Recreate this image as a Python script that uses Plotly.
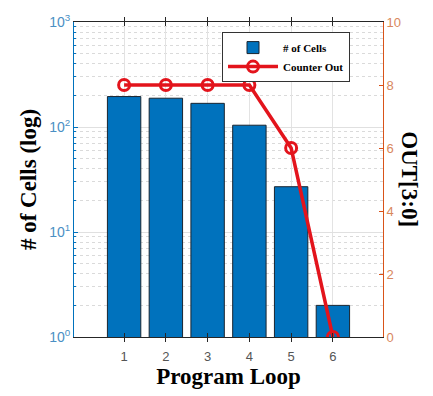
import plotly.graph_objects as go

# Cell counts per program loop (log scale) and 4-bit counter output
loops = [1, 2, 3, 4, 5, 6]
cell_counts = [195, 188, 168, 104, 27, 2]
counter_out = [8, 8, 8, 8, 6, 0]

left_ticks = [1, 10, 100, 1000]
left_tick_text = ["10<sup>0</sup>", "10<sup>1</sup>", "10<sup>2</sup>", "10<sup>3</sup>"]
right_ticks = [0, 2, 4, 6, 8, 10]
minor_vals = [m * d for d in (1, 10, 100) for m in range(2, 10)]

BLUE = "#0072BD"
ORANGE = "#D95319"
RED = "#E3141C"
SERIF = "Liberation Serif"
SANS = "Liberation Sans"

fig = go.Figure()
fig.add_trace(go.Bar(
    x=loops, y=cell_counts, name="<b># of Cells</b>", width=0.8,
    marker=dict(color=BLUE, line=dict(color="#1a2530", width=1)),
    yaxis="y",
))
fig.add_trace(go.Scatter(
    x=loops, y=counter_out, name="<b>Counter Out</b>", mode="lines+markers",
    line=dict(color=RED, width=3.5),
    marker=dict(symbol="circle-open", size=11, color=RED, line=dict(width=3)),
    yaxis="y2",
))

fig.update_layout(
    width=433, height=396,
    margin=dict(l=74, r=50, t=17, b=57),
    paper_bgcolor="white", plot_bgcolor="white",
    bargap=0.2,
    showlegend=True,
    legend=dict(
        x=0.479, y=0.968, xanchor="left", yanchor="top",
        bgcolor="white", bordercolor="#333333", borderwidth=1,
        font=dict(family=SERIF, size=11, color="black"),
        itemwidth=50, tracegroupgap=0,
    ),
    xaxis=dict(
        range=[-0.2, 7.2], tickvals=loops, ticktext=[str(v) for v in loops],
        showline=True, linecolor="#262626", linewidth=1, mirror="allticks",
        ticks="inside", ticklen=4, tickcolor="#262626",
        showgrid=True, gridcolor="#e3e3e3", gridwidth=1,
        tickfont=dict(family=SANS, size=13, color="#555555"),
        ticklabelstandoff=7,
        zeroline=False,
        title=dict(text="<b>Program Loop</b>", font=dict(family=SERIF, size=23, color="black"), standoff=4),
    ),
    yaxis=dict(
        type="log", range=[0, 3],
        tickvals=left_ticks, ticktext=left_tick_text,
        showline=True, linecolor=BLUE, linewidth=1,
        ticks="inside", ticklen=4, tickcolor=BLUE,
        showgrid=True, gridcolor="#e0e0e0", gridwidth=1,
        minor=dict(tickvals=minor_vals, ticks="inside", ticklen=2, tickcolor=BLUE,
                   showgrid=True, gridcolor="#dadada", griddash="dot", gridwidth=1),
        tickfont=dict(family=SANS, size=14, color="#4a8fc4"),
        zeroline=False,
        title=dict(text="<b># of Cells (log)</b>", font=dict(family=SERIF, size=23, color="black"), standoff=6),
    ),
    yaxis2=dict(
        overlaying="y", side="right", range=[0, 10],
        tickvals=right_ticks,
        showline=True, linecolor=ORANGE, linewidth=1,
        ticks="inside", ticklen=4, tickcolor=ORANGE,
        showgrid=False, zeroline=False,
        tickfont=dict(family=SANS, size=13, color="#d9875c"),
    ),
    annotations=[dict(
        text="<b>OUT[3:0]</b>", textangle=90, showarrow=False,
        xref="paper", yref="paper", x=1.085, y=0.5, xanchor="center", yanchor="middle",
        font=dict(family=SERIF, size=23, color="black"),
    )],
)

fig.write_html("out.html")
